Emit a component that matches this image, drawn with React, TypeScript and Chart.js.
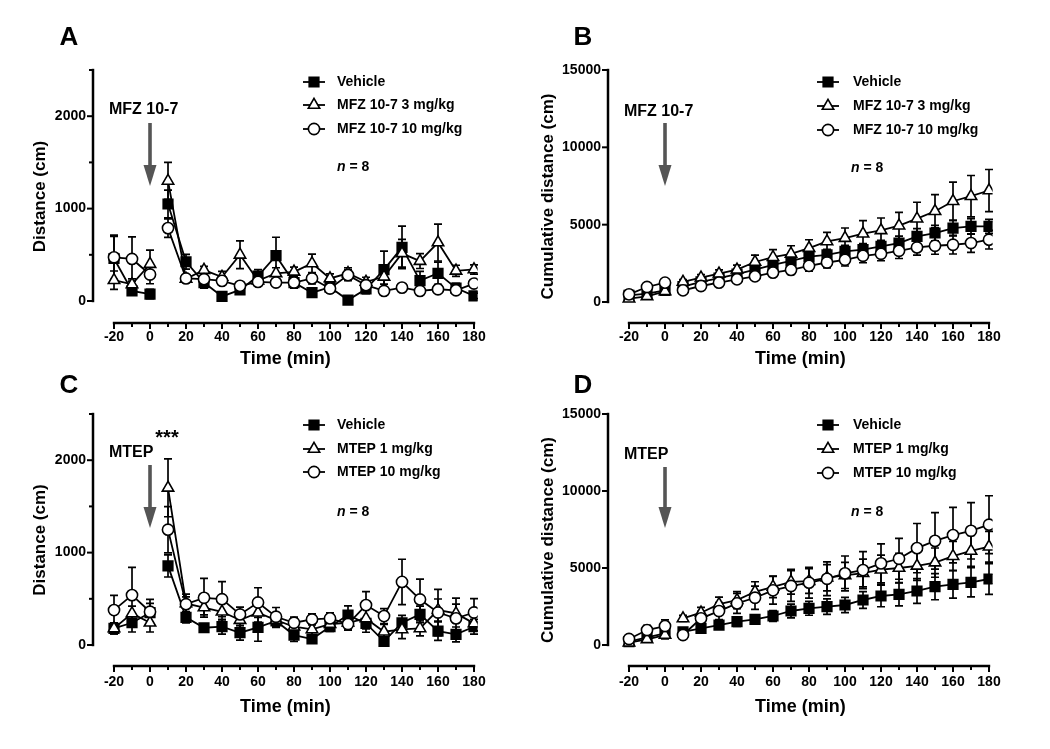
import { useEffect, useRef } from "react";
import { Chart, registerables } from "chart.js";
Chart.register(...registerables);

const FONT = "'Liberation Sans', Arial, Helvetica, sans-serif";

// ---------- data ----------
const times = [-20, -10, 0, 10, 20, 30, 40, 50, 60, 70, 80, 90, 100, 110, 120, 130, 140, 150, 160, 170, 180];
const xTickValues = [-20, -10, 0, 10, 20, 30, 40, 50, 60, 70, 80, 90, 100, 110, 120, 130, 140, 150, 160, 170, 180];
const distTicks = [0, 500, 1000, 1500, 2000, 2500];
const distLabels = [0, 1000, 2000];
const cumTicks = [0, 5000, 10000, 15000];
const cumLabels = [0, 5000, 10000, 15000];

const legendMFZ = ["Vehicle", "MFZ 10-7 3 mg/kg", "MFZ 10-7 10 mg/kg"];
const legendMTEP = ["Vehicle", "MTEP 1 mg/kg", "MTEP 10 mg/kg"];

// Panel A (distance, MFZ 10-7)
const vehA = [460, 110, 75, 1050, 425, 200, 50, 120, 270, 490, 200, 90, 150, 10, 130, 340, 580, 220, 300, 140, 55];
const vehAErr = [240, 40, 50, 150, 80, 60, 20, 40, 70, 200, 60, 40, 60, 10, 50, 200, 230, 100, 120, 50, 30];
const triA = [225, 180, 400, 1300, 240, 335, 260, 500, 220, 300, 316, 407, 244, 300, 207, 262, 516, 432, 633, 327, 342];
const triAErr = [100, 60, 150, 200, 40, 40, 60, 150, 40, 60, 50, 100, 50, 60, 50, 80, 150, 80, 200, 60, 50];
const cirA = [473, 455, 287, 789, 244, 236, 218, 164, 207, 200, 200, 244, 135, 280, 171, 109, 145, 109, 127, 116, 189];
const cirAErr = [240, 240, 100, 100, 40, 40, 40, 30, 40, 40, 40, 60, 40, 60, 40, 30, 40, 30, 40, 30, 40];

// Panel B (cumulative, MFZ 10-7)
const vehB = [430, 540, 754, 1000, 1300, 1550, 1800, 2090, 2400, 2660, 2940, 3050, 3270, 3380, 3590, 3810, 4240, 4460, 4780, 4890, 4890];
const vehBErr = [100, 120, 150, 150, 200, 200, 250, 300, 300, 300, 350, 350, 400, 400, 400, 450, 500, 500, 500, 500, 450];
const triB = [215, 366, 690, 1293, 1573, 1832, 2090, 2586, 2900, 3117, 3485, 3918, 4135, 4416, 4632, 4935, 5390, 5866, 6515, 6840, 7208];
const triBErr = [100, 150, 150, 150, 200, 250, 300, 450, 480, 520, 540, 580, 650, 845, 800, 865, 1060, 1080, 1235, 1340, 1360];
const cirB = [496, 970, 1250, 754, 1034, 1250, 1465, 1659, 1900, 2078, 2338, 2554, 2727, 2987, 3117, 3312, 3526, 3637, 3702, 3810, 4026];
const cirBErr = [150, 200, 200, 150, 150, 200, 200, 250, 250, 300, 350, 350, 400, 450, 450, 500, 500, 550, 600, 600, 600];

// Panel C (distance, MTEP)
const vehC = [180, 241, 350, 856, 299, 187, 198, 133, 191, 260, 108, 65, 198, 324, 234, 40, 241, 331, 151, 115, 198];
const vehCErr = [60, 100, 100, 120, 60, 40, 80, 80, 150, 60, 70, 40, 50, 100, 60, 40, 80, 90, 100, 80, 80];
const triC = [180, 342, 241, 1701, 450, 406, 360, 270, 349, 270, 198, 169, 227, 241, 288, 144, 169, 180, 378, 342, 234];
const triCErr = [60, 80, 100, 313, 100, 80, 100, 80, 100, 80, 60, 60, 60, 80, 150, 80, 100, 80, 120, 100, 80];
const cirC = [378, 540, 360, 1248, 442, 511, 496, 331, 460, 306, 241, 277, 288, 227, 432, 313, 683, 493, 352, 288, 352];
const cirCErr = [160, 300, 135, 250, 80, 210, 190, 80, 160, 100, 60, 60, 60, 60, 145, 80, 245, 220, 250, 220, 150];

// Panel D (cumulative, MTEP)
const vehD = [216, 497, 756, 850, 1080, 1296, 1512, 1663, 1883, 2208, 2381, 2489, 2598, 2922, 3182, 3290, 3507, 3788, 3940, 4070, 4286];
const vehDErr = [80, 150, 200, 150, 200, 250, 300, 300, 350, 450, 450, 500, 500, 550, 700, 750, 800, 850, 900, 950, 1000];
const triD = [151, 367, 648, 1728, 2095, 2657, 2916, 3456, 3780, 4104, 4150, 4370, 4520, 4670, 4890, 5000, 5140, 5350, 5770, 6110, 6380];
const triDErr = [80, 150, 250, 200, 350, 450, 550, 650, 700, 800, 800, 850, 850, 900, 950, 950, 950, 950, 950, 1000, 1000];
const cirD = [389, 972, 1231, 648, 1728, 2203, 2700, 3067, 3550, 3830, 4045, 4300, 4650, 4865, 5300, 5600, 6290, 6760, 7135, 7415, 7810];
const cirDErr = [150, 300, 400, 200, 450, 550, 650, 750, 900, 1000, 1000, 1100, 1130, 1200, 1270, 1330, 1600, 1830, 1800, 1830, 1880];

// ---------- helpers ----------
function build(vals: number[], errs: number[]) {
  const pts: { x: number; y: number | null }[] = [];
  const e: (number | null)[] = [];
  times.forEach((t, i) => {
    pts.push({ x: t, y: vals[i] });
    e.push(errs[i]);
    if (t === 0) {
      pts.push({ x: 5, y: null });
      e.push(null);
    }
  });
  return { pts, e };
}

const STYLES = [
  { pointStyle: "rect", radius: 6.8, fill: "#000", order: 2 },
  { pointStyle: "triangle", radius: 6.6, fill: "#fff", order: 1 },
  { pointStyle: "circle", radius: 5.6, fill: "#fff", order: 0 },
];

function drawMarker(ctx: CanvasRenderingContext2D, style: string, x: number, y: number, r: number, fill: string) {
  ctx.beginPath();
  if (style === "rect") {
    const s = Math.SQRT1_2 * r;
    ctx.rect(x - s, y - s, 2 * s, 2 * s);
  } else if (style === "triangle") {
    let rad = 0;
    ctx.moveTo(x + Math.sin(rad) * r, y - Math.cos(rad) * r);
    rad += (2 * Math.PI) / 3;
    ctx.lineTo(x + Math.sin(rad) * r, y - Math.cos(rad) * r);
    rad += (2 * Math.PI) / 3;
    ctx.lineTo(x + Math.sin(rad) * r, y - Math.cos(rad) * r);
    ctx.closePath();
  } else {
    ctx.arc(x, y, r, 0, Math.PI * 2);
  }
  ctx.fillStyle = fill;
  ctx.fill();
  ctx.lineWidth = 1.6;
  ctx.strokeStyle = "#000";
  ctx.stroke();
}

const errorBars = {
  id: "errorBars",
  beforeDatasetsDraw(chart: any) {
    const ctx = chart.ctx as CanvasRenderingContext2D;
    const ys = chart.scales.y;
    ctx.save();
    ctx.strokeStyle = "#000";
    ctx.lineWidth = 1.7;
    chart.data.datasets.forEach((ds: any, di: number) => {
      const meta = chart.getDatasetMeta(di);
      meta.data.forEach((pt: any, i: number) => {
        const raw = ds.data[i];
        const err = ds.errors[i];
        if (raw.y == null || err == null) return;
        const x = pt.x;
        const yT = ys.getPixelForValue(raw.y + err);
        const yB = ys.getPixelForValue(raw.y - err);
        ctx.beginPath();
        ctx.moveTo(x, yT);
        ctx.lineTo(x, yB);
        ctx.moveTo(x - 4, yT);
        ctx.lineTo(x + 4, yT);
        ctx.moveTo(x - 4, yB);
        ctx.lineTo(x + 4, yB);
        ctx.stroke();
      });
    });
    ctx.restore();
  },
};

const deco = {
  id: "deco",
  afterDraw(chart: any) {
    const cfg = chart.options.plugins.deco;
    const ctx = chart.ctx as CanvasRenderingContext2D;
    const xs = chart.scales.x;
    const ys = chart.scales.y;
    const area = chart.chartArea;
    ctx.save();
    // y axis
    ctx.strokeStyle = "#000";
    ctx.lineWidth = 2.5;
    const y0 = ys.getPixelForValue(0);
    const yTop = ys.getPixelForValue(cfg.yTicks[cfg.yTicks.length - 1]);
    ctx.beginPath();
    ctx.moveTo(area.left, y0 + 1.2);
    ctx.lineTo(area.left, yTop - 1.2);
    ctx.stroke();
    ctx.lineWidth = 2;
    cfg.yTicks.forEach((v: number) => {
      const p = ys.getPixelForValue(v);
      const len = cfg.yLabels.includes(v) ? 6 : 4;
      ctx.beginPath();
      ctx.moveTo(area.left, p);
      ctx.lineTo(area.left - len, p);
      ctx.stroke();
    });
    // x axis
    ctx.lineWidth = 2.5;
    const xl = xs.getPixelForValue(-20);
    const xr = xs.getPixelForValue(180);
    const yb = area.bottom;
    ctx.beginPath();
    ctx.moveTo(xl - 1.2, yb);
    ctx.lineTo(xr + 1.2, yb);
    ctx.stroke();
    ctx.lineWidth = 2;
    xTickValues.forEach((v) => {
      const p = xs.getPixelForValue(v);
      const len = v % 20 === 0 ? 6 : 4;
      ctx.beginPath();
      ctx.moveTo(p, yb);
      ctx.lineTo(p, yb + len);
      ctx.stroke();
    });

    // panel letter
    ctx.fillStyle = "#000";
    ctx.font = `bold 26px ${FONT}`;
    ctx.textAlign = "center";
    ctx.textBaseline = "middle";
    ctx.fillText(cfg.letter, cfg.letterX, cfg.letterY);

    // drug label
    ctx.font = `bold 16px ${FONT}`;
    ctx.textAlign = "left";
    ctx.fillText(cfg.drug, cfg.drugX, cfg.drugY);
    if (cfg.stars) {
      ctx.font = `bold 20px ${FONT}`;
      ctx.textAlign = "center";
      ctx.fillText("***", cfg.starsX, cfg.starsY);
    }

    // arrow
    const ax = xs.getPixelForValue(0);
    const headH = 21;
    ctx.strokeStyle = "#555";
    ctx.fillStyle = "#555";
    ctx.lineWidth = 3.6;
    ctx.beginPath();
    ctx.moveTo(ax, cfg.arrowTop);
    ctx.lineTo(ax, cfg.arrowBottom - headH + 1);
    ctx.stroke();
    ctx.beginPath();
    ctx.moveTo(ax - 6.5, cfg.arrowBottom - headH);
    ctx.lineTo(ax + 6.5, cfg.arrowBottom - headH);
    ctx.lineTo(ax, cfg.arrowBottom);
    ctx.closePath();
    ctx.fill();

    // legend
    cfg.legend.forEach((label: string, i: number) => {
      const y = cfg.legendRows[i];
      const st = STYLES[i];
      ctx.strokeStyle = "#000";
      ctx.lineWidth = 1.8;
      ctx.beginPath();
      ctx.moveTo(cfg.legendX, y);
      ctx.lineTo(cfg.legendX + 22, y);
      ctx.stroke();
      drawMarker(ctx, st.pointStyle, cfg.legendX + 11, y, st.radius, st.fill);
      ctx.fillStyle = "#000";
      ctx.font = `bold 14px ${FONT}`;
      ctx.textAlign = "left";
      ctx.textBaseline = "middle";
      ctx.fillText(label, cfg.legendTextX, y);
    });

    // n = 8
    ctx.fillStyle = "#000";
    ctx.textAlign = "left";
    ctx.textBaseline = "middle";
    ctx.font = `italic bold 14px ${FONT}`;
    ctx.fillText("n", cfg.nX, cfg.nY);
    const w = ctx.measureText("n").width;
    ctx.font = `bold 14px ${FONT}`;
    ctx.fillText(" = 8", cfg.nX + w, cfg.nY);
    ctx.restore();
  },
};

type PanelCfg = {
  left: number;
  top: number;
  w: number;
  h: number;
  series: number[][];
  errs: number[][];
  yMin: number;
  yMax: number;
  yTicks: number[];
  yLabels: number[];
  yTitle: string;
  yAxisLeft: number;
  yTitlePad: number;
  areaTop: number;
  xHeight: number;
  xTitlePad: number;
  xTickPad: number;
  deco: any;
};

const X_MIN = -31.67;
const X_MAX = 182;

function makeConfig(p: PanelCfg): any {
  const datasets = p.series.map((vals, i) => {
    const b = build(vals, p.errs[i]);
    const st = STYLES[i];
    return {
      label: String(i),
      data: b.pts,
      errors: b.e,
      order: st.order,
      borderColor: "#000",
      borderWidth: 1.8,
      pointStyle: st.pointStyle,
      pointRadius: st.radius,
      pointBackgroundColor: st.fill,
      pointBorderColor: "#000",
      pointBorderWidth: 1.6,
      spanGaps: false,
      tension: 0,
      fill: false,
    };
  });
  const plotW = ((X_MAX - X_MIN) * 360) / 200;
  const rightPad = p.w - p.yAxisLeft - plotW;
  return {
    type: "line",
    data: { datasets },
    plugins: [errorBars, deco],
    options: {
      responsive: false,
      animation: false,
      events: [],
      layout: { padding: { left: 0, top: p.areaTop, right: rightPad, bottom: 0 } },
      plugins: {
        legend: { display: false },
        tooltip: { enabled: false },
        deco: { ...p.deco, yTicks: p.yTicks, yLabels: p.yLabels },
      },
      scales: {
        x: {
          type: "linear",
          min: X_MIN,
          max: X_MAX,
          afterFit: (s: any) => {
            s.height = p.xHeight;
          },
          afterBuildTicks: (s: any) => {
            s.ticks = xTickValues.map((v) => ({ value: v }));
          },
          grid: { display: false, drawTicks: false },
          border: { display: false },
          ticks: {
            autoSkip: false,
            maxRotation: 0,
            padding: p.xTickPad,
            color: "#000",
            font: { family: FONT, size: 14, weight: "bold" },
            callback: (v: number) => (v % 20 === 0 ? String(v) : ""),
          },
          title: {
            display: true,
            text: "Time (min)",
            color: "#000",
            font: { family: FONT, size: 18, weight: "bold" },
            padding: { top: 0, bottom: p.xTitlePad },
          },
        },
        y: {
          type: "linear",
          min: p.yMin,
          max: p.yMax,
          afterFit: (s: any) => {
            s.width = p.yAxisLeft;
          },
          afterBuildTicks: (s: any) => {
            s.ticks = p.yTicks.map((v) => ({ value: v }));
          },
          grid: { display: false, drawTicks: false },
          border: { display: false },
          ticks: {
            autoSkip: false,
            padding: 7,
            color: "#000",
            font: { family: FONT, size: 14, weight: "bold" },
            callback: (v: number) => (p.yLabels.includes(v) ? String(v) : ""),
          },
          title: {
            display: true,
            text: p.yTitle,
            color: "#000",
            font: { family: FONT, size: 17, weight: "bold" },
            padding: { top: p.yTitlePad, bottom: 0 },
          },
        },
      },
    },
  };
}

const panels: PanelCfg[] = [
  {
    left: 0, top: 0, w: 525, h: 374,
    series: [vehA, triA, cirA], errs: [vehAErr, triAErr, cirAErr],
    yMin: -238, yMax: 2500, yTicks: distTicks, yLabels: distLabels, yTitle: "Distance (cm)",
    yAxisLeft: 93, yTitlePad: 30, areaTop: 70, xHeight: 51, xTitlePad: 4, xTickPad: 6,
    deco: {
      letter: "A", letterX: 69, letterY: 38, drug: "MFZ 10-7", drugX: 109, drugY: 110, stars: false,
      arrowTop: 123, arrowBottom: 186, legend: legendMFZ, legendX: 303, legendTextX: 337,
      legendRows: [82, 105, 129], nX: 337, nY: 167,
    },
  },
  {
    left: 525, top: 0, w: 525, h: 374,
    series: [vehB, triB, cirB], errs: [vehBErr, triBErr, cirBErr],
    yMin: -1358, yMax: 15000, yTicks: cumTicks, yLabels: cumLabels, yTitle: "Cumulative distance (cm)",
    yAxisLeft: 83, yTitlePad: 13, areaTop: 70, xHeight: 51, xTitlePad: 4, xTickPad: 6,
    deco: {
      letter: "B", letterX: 58, letterY: 38, drug: "MFZ 10-7", drugX: 99, drugY: 112, stars: false,
      arrowTop: 123, arrowBottom: 186, legend: legendMFZ, legendX: 292, legendTextX: 328,
      legendRows: [82, 106, 130], nX: 326, nY: 168,
    },
  },
  {
    left: 0, top: 374, w: 525, h: 375,
    series: [vehC, triC, cirC], errs: [vehCErr, triCErr, cirCErr],
    yMin: -227, yMax: 2500, yTicks: distTicks, yLabels: distLabels, yTitle: "Distance (cm)",
    yAxisLeft: 93, yTitlePad: 30, areaTop: 40, xHeight: 83, xTitlePad: 31, xTickPad: 8,
    deco: {
      letter: "C", letterX: 69, letterY: 12, drug: "MTEP", drugX: 109, drugY: 79, stars: true,
      starsX: 167, starsY: 64,
      arrowTop: 91, arrowBottom: 154, legend: legendMTEP, legendX: 303, legendTextX: 337,
      legendRows: [51, 75, 98], nX: 337, nY: 138,
    },
  },
  {
    left: 525, top: 374, w: 525, h: 375,
    series: [vehD, triD, cirD], errs: [vehDErr, triDErr, cirDErr],
    yMin: -1364, yMax: 15000, yTicks: cumTicks, yLabels: cumLabels, yTitle: "Cumulative distance (cm)",
    yAxisLeft: 83, yTitlePad: 13, areaTop: 40, xHeight: 83, xTitlePad: 31, xTickPad: 8,
    deco: {
      letter: "D", letterX: 58, letterY: 12, drug: "MTEP", drugX: 99, drugY: 81, stars: false,
      arrowTop: 93, arrowBottom: 154, legend: legendMTEP, legendX: 292, legendTextX: 328,
      legendRows: [51, 75, 99], nX: 326, nY: 138,
    },
  },
];

function Panel({ cfg }: { cfg: PanelCfg }) {
  const ref = useRef<HTMLCanvasElement>(null);
  useEffect(() => {
    const chart = new Chart(ref.current as HTMLCanvasElement, makeConfig(cfg));
    return () => chart.destroy();
  }, [cfg]);
  return (
    <div style={{ position: "absolute", left: cfg.left, top: cfg.top, width: cfg.w, height: cfg.h }}>
      <canvas ref={ref} width={cfg.w} height={cfg.h} style={{ width: cfg.w, height: cfg.h, display: "block" }} />
    </div>
  );
}

export default function App() {
  return (
    <div style={{ position: "absolute", left: 0, top: 0, width: 1050, height: 749, background: "#fff", overflow: "hidden" }}>
      {panels.map((p, i) => (
        <Panel key={i} cfg={p} />
      ))}
    </div>
  );
}
